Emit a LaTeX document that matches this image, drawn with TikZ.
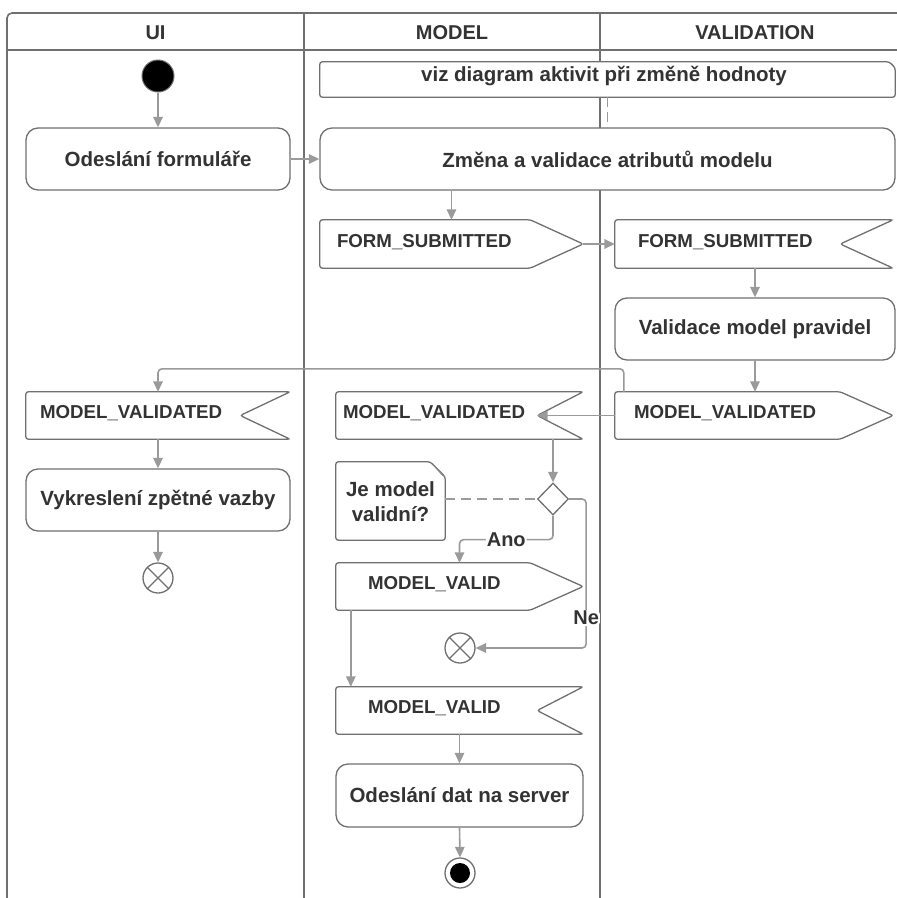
\documentclass[tikz,border=0pt]{standalone}
\usepackage{fontspec}
\setmainfont{Liberation Sans}
\usetikzlibrary{arrows.meta,shapes.geometric,calc}
\definecolor{framec}{HTML}{707070}
\definecolor{edgec}{HTML}{9A9A9A}
\definecolor{inkc}{HTML}{333333}
\definecolor{foldc}{HTML}{8C8C8C}

% outlines of send / receive signal boxes, drawn round a named node
\newcommand\sendshape[2]{\draw[sigline] (#1.north west) -- ([xshift=-#2]#1.north east) -- (#1.east) -- ([xshift=-#2]#1.south east) -- (#1.south west) -- cycle;}
\newcommand\recvshape[2]{\draw[sigline] (#1.north west) -- (#1.north east) -- ([xshift=-#2]#1.east) -- (#1.south east) -- (#1.south west) -- cycle;}

\begin{document}
\begin{tikzpicture}[x=1pt,y=-1pt,
  lane/.style={draw=framec, line width=1.6pt},
  hdr/.style={text=inkc, font=\bfseries\fontsize{20}{24}\selectfont, inner sep=0pt},
  act/.style={draw=framec, line width=1.3pt, rounded corners=12pt, fill=white, text=inkc,
    font=\bfseries\fontsize{20.5}{25}\selectfont, inner sep=0pt, align=center},
  sigbox/.style={inner sep=0pt},
  sigline/.style={draw=framec, line width=1.3pt, rounded corners=2.5pt, fill=white},
  sigtxt/.style={text=inkc, font=\bfseries\fontsize{18.7}{22}\selectfont, anchor=west, inner sep=0pt},
  flow/.style={draw=edgec, line width=1.6pt, -{Triangle[length=10.5pt,width=9.5pt]}},
  link/.style={draw=edgec, line width=1.6pt, dash pattern=on 10pt off 5pt},
  lbl/.style={fill=white, text=inkc, font=\bfseries\fontsize{20}{24}\selectfont, inner sep=1pt},
  startnode/.style={circle, fill=black, draw=framec, line width=1pt, minimum size=32pt, inner sep=0pt},
  endring/.style={circle, draw=framec, line width=1.3pt, fill=white, minimum size=30pt, inner sep=0pt},
  decision/.style={diamond, draw=framec, line width=1.3pt, fill=white, minimum width=31pt, minimum height=32pt, inner sep=0pt, aspect=1}
]
\useasboundingbox (0,0) rectangle (897,898);

% swimlanes
\draw[lane, rounded corners=5pt] (7,920) -- (7,13) -- (920,13);
\draw[lane] (7,50) -- (920,50);
\draw[lane] (304,13) -- (304,920);
\draw[lane] (600,13) -- (600,920);
\node[hdr] (hui) at (155.5,33) {UI};
\node[hdr] (hmodel) at (452,33) {MODEL};
\node[hdr] (hval) at (755,33) {VALIDATION};

% reference note at the top
\node[inner sep=0pt, minimum width=575pt, minimum height=35pt] (viz) at (607.5,79.5) {};
\draw[sigline] (viz.north west) -- ([xshift=-6pt]viz.north east) -- ([yshift=-6pt]viz.north east) -- (viz.south east) -- (viz.south west) -- cycle;
\node[act, draw=none, fill=none, anchor=center] (viztxt) at (604,76) {viz diagram aktivit při změně hodnoty};

% UI lane
\node[startnode] (start) at (158,76) {};
\node[act, minimum width=264pt, minimum height=62pt] (odes) at (158,159) {Odeslání formuláře};
\node[sigbox, minimum width=264pt, minimum height=47pt] (mvr1) at (158,415.5) {};
\recvshape{mvr1}{50pt}
\node[sigtxt] (mvr1t) at ([xshift=14pt,yshift=2pt]mvr1.west) {MODEL\_VALIDATED};
\node[act, minimum width=264pt, minimum height=62pt] (vyk) at (158,500) {Vykreslení zpětné vazby};
\node[endring] (ff1) at (158,578) {};
\draw[framec, line width=1.3pt] (ff1.north east) -- (ff1.south west) (ff1.north west) -- (ff1.south east);

% MODEL lane
\node[act, minimum width=575pt, minimum height=62pt] (zmena) at (607.5,159) {Změna a validace atributů modelu};
\node[sigbox, minimum width=263pt, minimum height=48pt] (fs1) at (451.5,244) {};
\sendshape{fs1}{53pt}
\node[sigtxt] (fs1t) at ([xshift=17pt,yshift=2pt]fs1.west) {FORM\_SUBMITTED};

\node[sigbox, minimum width=247pt, minimum height=47pt] (mvr2) at (459.5,415.5) {};
\recvshape{mvr2}{46pt}
\coordinate (mvr2tip) at ([xshift=-46pt]mvr2.east);
\node[sigtxt] (mvr2t) at ([xshift=7pt,yshift=2pt]mvr2.west) {MODEL\_VALIDATED};

\node[decision] (dec) at (553,499) {};
\node[inner sep=0pt, minimum width=109pt, minimum height=78pt] (note) at (390.5,501) {};
\draw[sigline] (note.north west) -- ([xshift=-15pt]note.north east) -- ([yshift=-15pt]note.north east) -- (note.south east) -- (note.south west) -- cycle;
\fill[foldc] ([xshift=-15pt]note.north east) -- ([yshift=-15pt]note.north east) -- ([xshift=-3pt,yshift=-14pt]note.north east) -- cycle;
\node[act, draw=none, fill=none] (notet) at (390.5,502) {Je model\\validní?};

\node[sigbox, minimum width=247pt, minimum height=47pt] (mv1) at (459.5,586.5) {};
\sendshape{mv1}{53pt}
\node[sigtxt] (mv1t) at ([xshift=32pt,yshift=2pt]mv1.west) {MODEL\_VALID};
\node[endring] (ff2) at (460,648) {};
\draw[framec, line width=1.3pt] (ff2.north east) -- (ff2.south west) (ff2.north west) -- (ff2.south east);

\node[sigbox, minimum width=247pt, minimum height=47pt] (mv2) at (459.5,710.5) {};
\recvshape{mv2}{46pt}
\node[sigtxt] (mv2t) at ([xshift=32pt,yshift=2pt]mv2.west) {MODEL\_VALID};
\node[act, minimum width=247pt, minimum height=63pt] (ods) at (459.5,795.5) {Odeslání dat na server};
\node[endring] (fin) at (460,873) {};
\fill[black] (fin.center) circle (10pt);

% VALIDATION lane
\node[sigbox, minimum width=278pt, minimum height=48pt] (fs2) at (754,244) {};
\recvshape{fs2}{53pt}
\node[sigtxt] (fs2t) at ([xshift=23pt,yshift=2pt]fs2.west) {FORM\_SUBMITTED};
\node[act, minimum width=280pt, minimum height=62pt] (val) at (755,329) {Validace model pravidel};
\node[sigbox, minimum width=278pt, minimum height=47pt] (mvs) at (754,415.5) {};
\sendshape{mvs}{53pt}
\node[sigtxt] (mvst) at ([xshift=19pt,yshift=2pt]mvs.west) {MODEL\_VALIDATED};

% control flow
\draw[flow] (start) -- (odes);
\draw[flow] (odes.east) -- (zmena.west);
\draw[link] (viz.south) -- (zmena.north);
\draw[flow] (fs1.north |- zmena.south) -- (fs1.north);
\draw[flow] (fs1.east) -- (fs2.west);
\draw[flow] (val.north |- fs2.south) -- (val.north);
\draw[flow] (val.south) -- (val.south |- mvs.north);
\draw[flow] (mvs.west) -- (mvr2tip);
\draw[flow, rounded corners=4pt] ([xshift=9pt]mvs.north west) -- ++(0,-23) -| (mvr1.north);
\draw[flow] (mvr1.south) -- (vyk.north);
\draw[flow] (vyk.south) -- (ff1.north);
\draw[flow] (dec.north |- mvr2.south) -- (dec.north);
\draw[link, dash pattern=on 10pt off 6pt] (note.east |- dec.west) -- (dec.west);
\draw[flow, rounded corners=4pt] (dec.south) -- ++(0,24) -| node[lbl, pos=0.25] {Ano} (mv1.north);
\draw[flow, rounded corners=4pt] (dec.east) -- ++(17,0) |- node[lbl, pos=0.4] {Ne} (ff2.east);
\draw[flow] ([xshift=15pt]mv1.south west) -- ([xshift=15pt]mv2.north west);
\draw[flow] (mv2.south) -- (ods.north);
\draw[flow] (ods.south) -- (fin.north);
\end{tikzpicture}
\end{document}
